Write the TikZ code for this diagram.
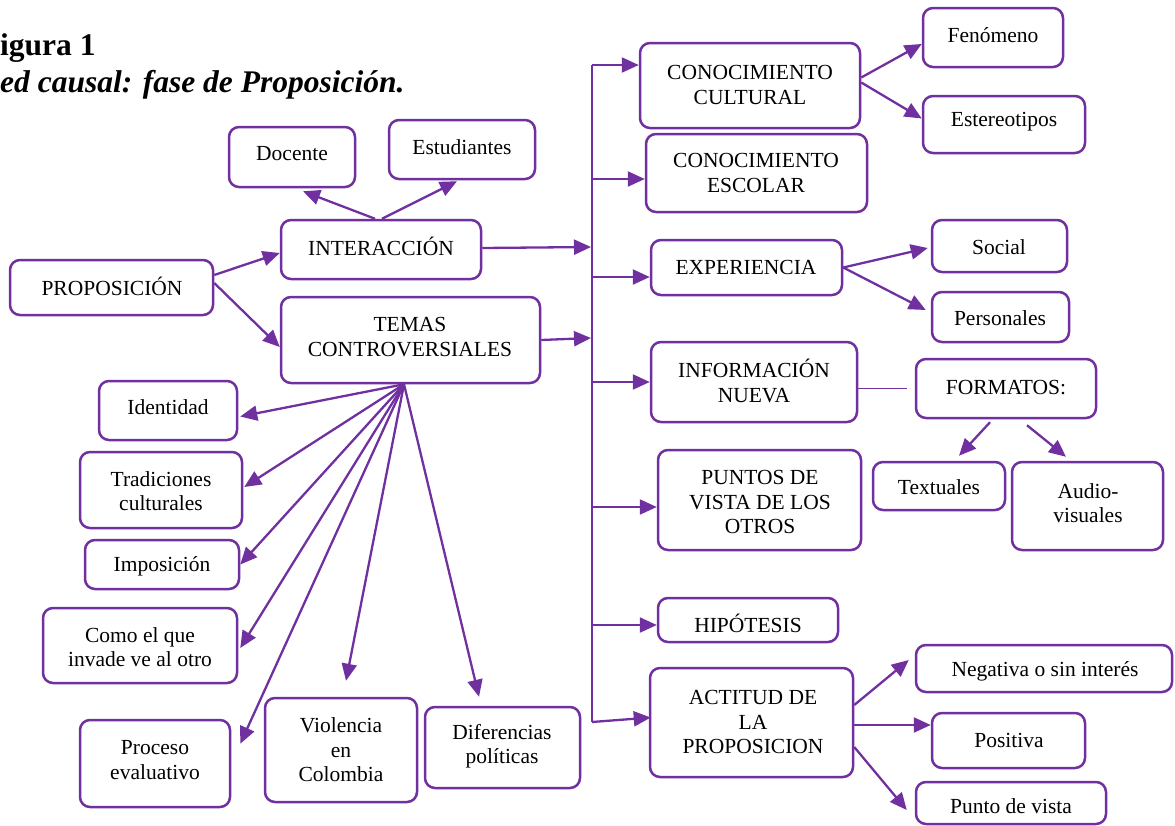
\documentclass[tikz,border=0pt]{standalone}
\usepackage{fontspec}
\setmainfont{Liberation Serif}
\usetikzlibrary{arrows.meta}
\definecolor{vio}{HTML}{7030A0}
\tikzset{
  box/.style={draw=vio, line width=2.5pt, rounded corners=10pt, inner sep=0pt},
  txt/.style={align=center, inner sep=0pt, font=\fontsize{21.5}{24.5}\selectfont},
  arr/.style={draw=vio, line width=2.3pt, -{Triangle[length=17pt,width=15pt]}},
  thinline/.style={draw=vio, line width=1.2pt},
  vline/.style={draw=vio, line width=1.6pt},
  ttl/.style={anchor=base west, inner sep=0pt, font=\fontsize{31.5}{36}\selectfont\bfseries},
}
\newcommand\bx[8]{%
  \node[box, minimum width={(#4-#2)*1pt}, minimum height={(#5-#3)*1pt}] (#1) at ({(#2+#4)/2},{(#3+#5)/2}) {};
  \node[txt] (#1t) at (#6,#7) {#8};
}
\begin{document}
\begin{tikzpicture}[x=1pt,y=-1pt]
\path[use as bounding box] (0,0) rectangle (1175,825);

% title
\node[ttl] (t1) at (0,55) {igura 1};
\node[ttl, font=\fontsize{31.5}{36}\selectfont\bfseries\itshape] (t2) at (0,92) {ed causal: fase de Proposición.};

% boxes
\bx{doc}{229}{127}{355}{187}{292}{154}{Docente}
\bx{est}{389}{120}{535}{179}{462}{147}{Estudiantes}
\bx{inter}{281}{220}{481}{279}{381}{246}{INTERACCIÓN}
\bx{prop}{10}{260}{213}{315}{112}{286}{PROPOSICIÓN}
\bx{temas}{281}{297}{540}{383}{410}{337}{TEMAS\\CONTROVERSIALES}
\bx{iden}{99}{381}{237}{440}{168}{407}{Identidad}
\bx{trad}{80}{452}{242}{528}{161}{491}{Tradiciones\\culturales}
\bx{impo}{85}{540}{239}{589}{162}{566}{Imposición}
\bx{como}{43}{608}{237}{683}{140}{647}{Como el que\\invade ve al otro}
\bx{proc}{80}{720}{230}{807}{155}{760}{Proceso\\evaluativo}
\bx{viol}{265}{698}{417}{802}{341}{750}{Violencia\\en\\Colombia}
\bx{dif}{425}{707}{580}{788}{502}{746}{Diferencias\\políticas}
\bx{cc}{640}{43}{860}{128}{750}{85}{CONOCIMIENTO\\CULTURAL}
\bx{ce}{646}{134}{867}{212}{756}{173}{CONOCIMIENTO\\ESCOLAR}
\bx{ex}{651}{240}{842}{295}{746}{267}{EXPERIENCIA}
\bx{inf}{651}{342}{857}{422}{754}{381}{INFORMACIÓN\\NUEVA}
\bx{pv}{658}{450}{861}{550}{760}{502}{PUNTOS DE\\VISTA DE LOS\\OTROS}
\bx{hi}{658}{598}{838}{642}{748}{623}{HIPÓTESIS}
\bx{ac}{650}{668}{853}{777}{753}{722}{ACTITUD DE\\LA\\PROPOSICION}
\bx{fen}{923}{8}{1063}{67}{993}{35}{Fenómeno}
\bx{ste}{923}{96}{1085}{153}{1004}{122}{Estereotipos}
\bx{soc}{932}{220}{1067}{272}{999}{247}{Social}
\bx{per}{932}{292}{1069}{342}{1000}{318}{Personales}
\bx{fo}{916}{359}{1096}{418}{1006}{388}{FORMATOS:}
\bx{tex}{873}{462}{1005}{510}{939}{487}{Textuales}
\bx{aud}{1012}{462}{1163}{550}{1088}{503}{Audio-\\visuales}
\bx{neg}{916}{645}{1172}{692}{1045}{671}{Negativa o sin interés}
\bx{pos}{932}{713}{1085}{768}{1009}{740}{Positiva}
\bx{pun}{916}{782}{1106}{824}{1011}{806}{Punto de vista}

% vertical bus
\coordinate (b1) at (592,65);
\coordinate (b2) at (592,179);
\coordinate (b3) at (592,277);
\coordinate (b4) at (592,382);
\coordinate (b5) at (592,507);
\coordinate (b6) at (592,625);
\coordinate (b7) at (592,722);
\coordinate (h1) at (591,247);
\coordinate (h2) at (591,338);
\draw[vline] (b1) -- (b7);

% left part
\draw[arr] ([yshift=12.5pt]prop.east) -- ([yshift=-3.5pt]inter.west);
\draw[arr] ([yshift=4.5pt]prop.east) -- ([yshift=-7pt]temas.west);
\draw[arr] ([xshift=-6pt]inter.north) -- ([xshift=11pt,yshift=-3pt]doc.south);
\draw[arr] ([xshift=1pt]inter.north) -- ([xshift=-5pt,yshift=-1pt]est.south);
\draw[arr] ([yshift=1.5pt]inter.east) -- (h1);
\draw[arr] (temas.east) -- (h2);

\coordinate (tb) at ([xshift=-6.5pt]temas.south);
\draw[arr] (tb) -- ([xshift=2pt,yshift=-6pt]iden.east);
\draw[arr] (tb) -- ([xshift=1pt,yshift=3pt]trad.east);
\draw[arr] (tb) -- (impo.east);
\draw[arr] (tb) -- ([xshift=2pt,yshift=-2.5pt]como.east);
\draw[arr] (tb) -- ([xshift=9pt,yshift=-25pt]proc.north east);
\draw[arr] (tb) -- ([xshift=5pt,yshift=16pt]viol.north);
\draw[arr] (tb) -- ([xshift=-23.5pt,yshift=9pt]dif.north);

% bus branches
\draw[arr] (b1) -- (b1 -| cc.west);
\draw[arr] (b2) -- (b2 -| ce.west);
\draw[arr] (b3) -- (b3 -| ex.west);
\draw[arr] (b4) -- (b4 -| inf.west);
\draw[arr] (b5) -- (b5 -| pv.west);
\draw[arr] (b6) -- (b6 -| hi.west);
\draw[arr] (b7) -- ([xshift=2pt,yshift=5pt]ac.west);

% right part
\draw[arr] ([yshift=8pt]cc.east) -- ([yshift=-6.5pt]fen.west);
\draw[arr] ([yshift=3pt]cc.east) -- ([yshift=6pt]ste.west);
\draw[arr] (ex.east) -- ([xshift=-3pt,yshift=-2pt]soc.west);
\draw[arr] (ex.east) -- ([xshift=-5pt,yshift=7pt]per.west);
\draw[thinline] ([xshift=-8pt]fo.west) -- (fo.west -| inf.east);
\draw[arr] ([xshift=-16pt,yshift=-3pt]fo.south) -- ([xshift=20pt,yshift=5pt]tex.north);
\draw[arr] ([xshift=21pt,yshift=-6pt]fo.south) -- ([xshift=-21.5pt,yshift=4pt]aud.north);
\draw[arr] ([yshift=17.5pt]ac.east) -- ([xshift=-6pt,yshift=8.5pt]neg.west);
\draw[arr] ([yshift=-2.5pt]ac.east) -- ([yshift=15.5pt]pos.west);
\draw[arr] ([yshift=-24.5pt]ac.east) -- ([xshift=-8pt,yshift=-7pt]pun.west);
\end{tikzpicture}
\end{document}
